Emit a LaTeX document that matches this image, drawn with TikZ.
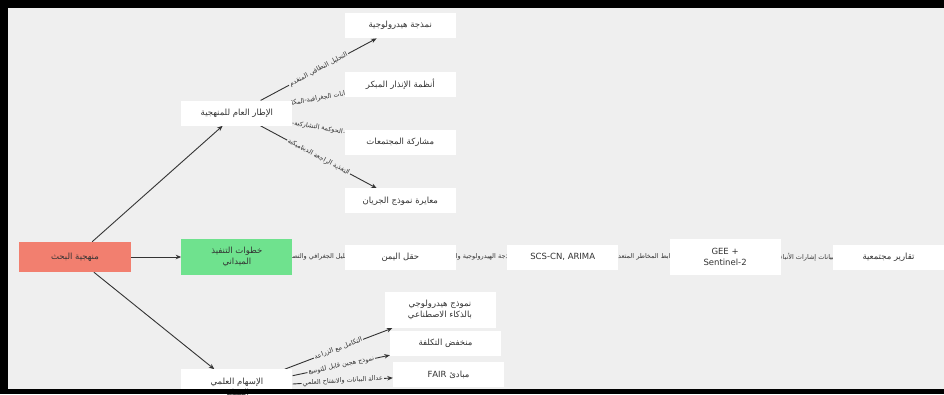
\documentclass[tikz,border=0pt]{standalone}
\usepackage{fontspec}
\setmainfont{DejaVu Sans}
\newfontfamily\arabicfont[Script=Arabic]{DejaVu Sans}
\TeXXeTstate=1
\newcommand{\ar}[1]{{\arabicfont\beginR #1\endR}}
\usepackage{tikz}
\usetikzlibrary{arrows.meta,positioning}
\definecolor{bggrey}{HTML}{EFEFEF}
\definecolor{rootred}{HTML}{F27F6F}
\definecolor{stepgreen}{HTML}{6FE28E}
\definecolor{txt}{HTML}{333333}
\pgfdeclarelayer{back}
\pgfdeclarelayer{edges}
\pgfdeclarelayer{front}
\pgfsetlayers{back,edges,main,front}

\begin{document}
\begin{tikzpicture}[
			x=1pt, y=-1pt,
			node distance=51pt,
			box/.style={rectangle, fill=white, text=txt, minimum width=111pt, minimum height=25pt, align=center, inner sep=2pt, font=\fontsize{8.5}{11}\selectfont},
			tallbox/.style={box, minimum height=36pt},
			rootbox/.style={box, fill=rootred, minimum width=112pt, minimum height=30pt},
			stepbox/.style={tallbox, fill=stepgreen},
			line/.style={draw=txt, line width=0.9pt, ->, >={Stealth[length=5.5pt,width=4.5pt]}},
			lbl/.style={fill=bggrey, text=txt, sloped, inner sep=1pt, font=\fontsize{6.5}{7}\selectfont}
		]
		\useasboundingbox (0,0) rectangle (944,394);
		\begin{pgfonlayer}{back}
			\fill[bggrey] (0,0) rectangle (944,394);
		\end{pgfonlayer}

		% Main branch and its three children
		\node (root) [rootbox] at (75,257) {\ar{منهجية البحث}};
		\node (field) [stepbox, right=50pt of root] {\ar{خطوات التنفيذ}\\\ar{الميداني}};
		\node (frame) [box, above=113pt of field] {\ar{الإطار العام للمنهجية}};
		\node (contrib) [tallbox, below=94pt of field] {\ar{الإسهام العلمي}\\\ar{المبتكر}};

		% Framework column
		\node (warn) [box, right=52pt of frame, yshift=29pt] {\ar{أنظمة الإنذار المبكر}};
		\node (hydro) [box, above=33pt of warn] {\ar{نمذجة هيدرولوجية}};
		\node (part) [box, below=33pt of warn] {\ar{مشاركة المجتمعات}};
		\node (calib) [box, below=33pt of part] {\ar{معايرة نموذج الجريان}};

		% Field steps row
		\node (yemen) [box, right=52pt of field] {\ar{حقل اليمن}};
		\node (scs) [box, right=of yemen] {SCS-CN, ARIMA};
		\node (gee) [tallbox, right=of scs] {GEE +\\Sentinel-2};
		\node (reports) [box, right=52pt of gee] {\ar{تقارير مجتمعية}};

		% Contribution column
		\node (ai) [tallbox] at (440,310) {\ar{نموذج هيدرولوجي}\\\ar{بالذكاء الاصطناعي}};
		\node (cost) [box] at (445.5,343.5) {\ar{منخفض التكلفة}};
		\node (fair) [box] at (448.5,374.5) {\ar{مبادئ \beginL FAIR\endL}};

		% Connectors (behind the boxes)
		\begin{pgfonlayer}{edges}
			\draw [line] (root) -- (frame);
			\draw [line] (root) -- (field);
			\draw [line] (root) -- (contrib);

			\draw [line] (frame) -- node[lbl] {\ar{التحليل النطاقي المتقدم}} (hydro);
			\draw [line] (frame) -- node[lbl] {\ar{البيانات الجغرافية-المكانية}} (warn);
			\draw [line] (frame) -- node[lbl] {\ar{الحوكمة التشاركية}} (part);
			\draw [line] (frame) -- node[lbl] {\ar{التغذية الراجعة الديناميكية}} (calib);

			\draw [line] (field) -- node[lbl] {\ar{التحليل الجغرافي والتصميم}} (yemen);
			\draw [line] (yemen) -- node[lbl] {\ar{النمذجة الهيدرولوجية والتنبؤ}} (scs);
			\draw [line] (scs) -- node[lbl] {\ar{ترابط المخاطر المتعددة}} (gee);
			\draw [line] (gee) -- node[lbl] {\ar{بيانات إشارات الأنباء}} (reports);

			\draw [line] (contrib) -- node[lbl] {\ar{التكامل مع الزراعة}} (ai);
			\draw [line] (contrib) -- node[lbl] {\ar{نموذج هجين قابل للتوسع}} (cost);
			\draw [line] (contrib) -- node[lbl] {\ar{عدالة البيانات والانفتاح العلمي}} (fair);
		\end{pgfonlayer}

		% Frame bars
		\begin{pgfonlayer}{front}
			\fill[black] (0,0) rectangle (944,8);
			\fill[black] (0,0) rectangle (8,394);
			\fill[black] (0,389) rectangle (944,394);
		\end{pgfonlayer}
	\end{tikzpicture}
\end{document}
